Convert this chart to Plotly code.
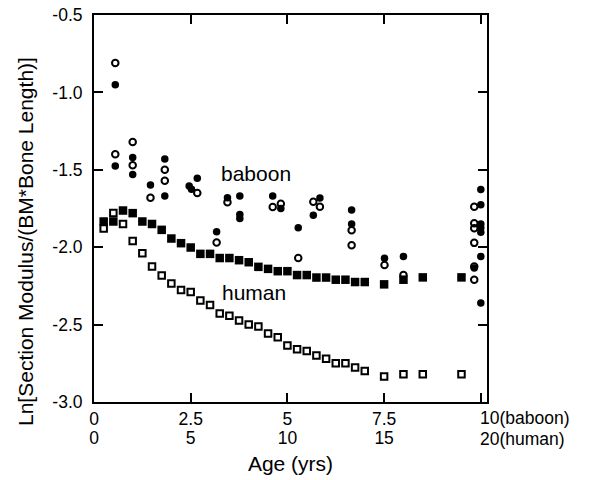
import plotly.graph_objects as go

# ---------------- data ----------------
# Baboon (x = baboon age, yrs)
baboon_filled_age = [0.55, 0.55, 1.0, 1.0, 1.46, 1.83, 1.83, 2.46, 2.52, 2.67, 3.17, 3.45,
                     3.77, 3.77, 3.77, 4.62, 4.83, 5.28, 5.67, 5.84, 6.66, 6.66, 7.51, 8.0,
                     10.0, 10.0, 10.0, 10.0, 10.0, 10.0, 9.83, 10.0]
baboon_filled_val = [-0.95, -1.476, -1.42, -1.53, -1.598, -1.43, -1.67, -1.605, -1.625, -1.555, -1.90, -1.68,
                     -1.67, -1.789, -1.815, -1.67, -1.75, -1.875, -1.794, -1.682, -1.76, -1.85, -2.072, -2.06,
                     -1.628, -1.725, -1.85, -1.875, -1.903, -2.06, -2.135, -2.36]

baboon_open_age = [0.55, 0.55, 1.0, 1.0, 1.46, 1.83, 1.83, 2.67, 3.17, 3.45, 4.62, 4.83, 5.28,
                   5.67, 5.84, 6.66, 6.66, 7.51, 8.0, 9.83, 9.83, 9.83, 9.83, 9.83, 9.83]
baboon_open_val = [-0.81, -1.40, -1.32, -1.47, -1.68, -1.50, -1.57, -1.65, -1.97, -1.71, -1.74, -1.72, -2.07,
                   -1.707, -1.738, -1.89, -1.987, -2.115, -2.18, -1.738, -1.845, -1.877, -1.972, -2.125, -2.21]

# Human (x = human age, yrs)
human_age = [0.5, 1, 1.5, 2, 2.5, 3, 3.5, 4, 4.5, 5, 5.5, 6, 6.5, 7, 7.5, 8, 8.5, 9, 9.5, 10,
             10.5, 11, 11.5, 12, 12.5, 13, 13.5, 14, 15, 16, 17, 19]
human_filled_val = [-1.834, -1.834, -1.763, -1.78, -1.834, -1.85, -1.888, -1.944, -1.974, -2.002,
                    -2.043, -2.043, -2.07, -2.07, -2.084, -2.097, -2.127, -2.14, -2.155, -2.155,
                    -2.18, -2.18, -2.196, -2.196, -2.21, -2.21, -2.225, -2.225, -2.24, -2.21, -2.195, -2.195]
human_open_val = [-1.88, -1.779, -1.85, -1.96, -2.039, -2.125, -2.183, -2.235, -2.276, -2.29,
                  -2.344, -2.374, -2.428, -2.443, -2.473, -2.499, -2.512, -2.557, -2.581, -2.635,
                  -2.66, -2.67, -2.70, -2.72, -2.75, -2.75, -2.777, -2.80, -2.835, -2.82, -2.82, -2.82]

baboon_ticks = [0, 2.5, 5, 7.5, 10]
baboon_ticktext = ["0", "2.5", "5", "7.5", ""]
human_ticks = [0, 5, 10, 15]
human_ticktext = ["0", "5", "10", "15"]
y_ticks = [-3.0, -2.5, -2.0, -1.5, -1.0, -0.5]
y_ticktext = ["-3.0", "-2.5", "-2.0", "-1.5", "-1.0", "-0.5"]

XMAX = 10.16
FONT = "Liberation Sans, Arial, sans-serif"
TICK_SIZE = 17.5

fig = go.Figure()
fig.add_trace(go.Scatter(x=human_age, y=human_filled_val, mode="markers", xaxis="x2",
                         marker=dict(symbol="square", size=8.5, color="black"), showlegend=False))
fig.add_trace(go.Scatter(x=human_age, y=human_open_val, mode="markers", xaxis="x2",
                         marker=dict(symbol="square-open", size=6.5, color="black",
                                     line=dict(width=2, color="black")), showlegend=False))
fig.add_trace(go.Scatter(x=baboon_filled_age, y=baboon_filled_val, mode="markers",
                         marker=dict(symbol="circle", size=7.5, color="black"), showlegend=False))
fig.add_trace(go.Scatter(x=baboon_open_age, y=baboon_open_val, mode="markers",
                         marker=dict(symbol="circle-open", size=6.5, color="black",
                                     line=dict(width=2, color="black")), showlegend=False))

axis_common = dict(showgrid=False, zeroline=False, showline=True, linecolor="black", linewidth=2,
                   mirror="ticks", ticks="inside", ticklen=9, tickwidth=2, tickcolor="black",
                   automargin=False,
                   tickfont=dict(family=FONT, size=TICK_SIZE, color="black"))

fig.update_layout(
    width=592, height=480,
    margin=dict(l=94, r=105, t=15, b=78),
    plot_bgcolor="white", paper_bgcolor="white",
    font=dict(family=FONT, color="black"),
    xaxis=dict(range=[0, XMAX], tickmode="array", tickvals=baboon_ticks, ticktext=baboon_ticktext,
               title=dict(text="Age (yrs)", font=dict(family=FONT, size=21), standoff=28),
               **axis_common),
    xaxis2=dict(range=[0, 2 * XMAX], overlaying="x", side="bottom", anchor="y",
                tickmode="array", tickvals=human_ticks, ticktext=human_ticktext,
                showgrid=False, zeroline=False, showline=False, ticks="",
                ticklabelstandoff=23, automargin=False,
                tickfont=dict(family=FONT, size=TICK_SIZE, color="black")),
    yaxis=dict(range=[-3.0, -0.5], tickmode="array", tickvals=y_ticks, ticktext=y_ticktext,
               ticklabelstandoff=6, **axis_common),
    annotations=[
        dict(text="baboon", x=4.18, y=-1.523, xref="x", yref="y", showarrow=False,
             font=dict(family=FONT, size=21)),
        dict(text="human", x=4.13, y=-2.29, xref="x", yref="y", showarrow=False,
             font=dict(family=FONT, size=21)),
        dict(text="10(baboon)", x=9.93, y=0, xref="x", yref="paper", xanchor="left", yanchor="middle",
             yshift=-16, showarrow=False, font=dict(family=FONT, size=TICK_SIZE)),
        dict(text="20(human)", x=9.93, y=0, xref="x", yref="paper", xanchor="left", yanchor="middle",
             yshift=-37, showarrow=False, font=dict(family=FONT, size=TICK_SIZE)),
        dict(text="Ln[Section Modulus/(BM*Bone Length)]", x=(25 - 94) / 393, y=(402 - 242) / 387,
             xref="paper", yref="paper", xanchor="center", yanchor="middle", textangle=-90,
             showarrow=False, font=dict(family=FONT, size=21)),
    ],
)

fig.write_html("out.html")
